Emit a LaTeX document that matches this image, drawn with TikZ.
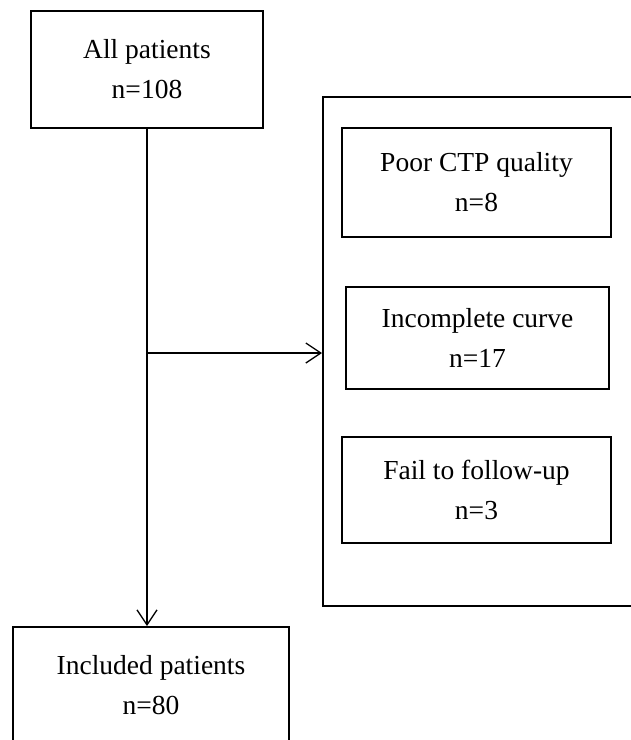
\documentclass[tikz,border=0pt]{standalone}
\usepackage{fontspec}
\setmainfont{Liberation Serif}
\usetikzlibrary{arrows.meta}
\begin{document}
\begin{tikzpicture}[x=1pt,y=-1pt]
\tikzset{
  box/.style={draw, line width=2pt, inner sep=0pt, align=center, font=\fontsize{27.5}{40}\selectfont},
  flow/.style={line width=1.3pt, -{Straight Barb[length=15pt,width=20pt,line width=1.3pt]}}
}
\fill[white] (0,0) rectangle (631,740);
\useasboundingbox (0,0) rectangle (631,740);
\clip (0,0) rectangle (631,740);
\node[box, minimum width=232pt, minimum height=117pt] (all) at (147,69.5) {All patients\\n=108};
\node[box, minimum width=337pt, minimum height=509pt] (outer) at (491.5,351.5) {};
\node[box, minimum width=269pt, minimum height=109pt] (poor) at (476.5,182.5) {Poor CTP quality\\n=8};
\node[box, minimum width=263pt, minimum height=102pt] (inc) at (477.5,338) {Incomplete curve\\n=17};
\node[box, minimum width=269pt, minimum height=106pt] (fail) at (476.5,490) {Fail to follow-up\\n=3};
\node[box, minimum width=276pt, minimum height=116pt] (incl) at (151,685) {Included patients\\n=80};
\coordinate (branch) at (147,353);
\draw[flow] (all.south) -- (all.south |- incl.north);
\draw[flow] (branch) -- (branch -| outer.west);
\end{tikzpicture}
\end{document}
